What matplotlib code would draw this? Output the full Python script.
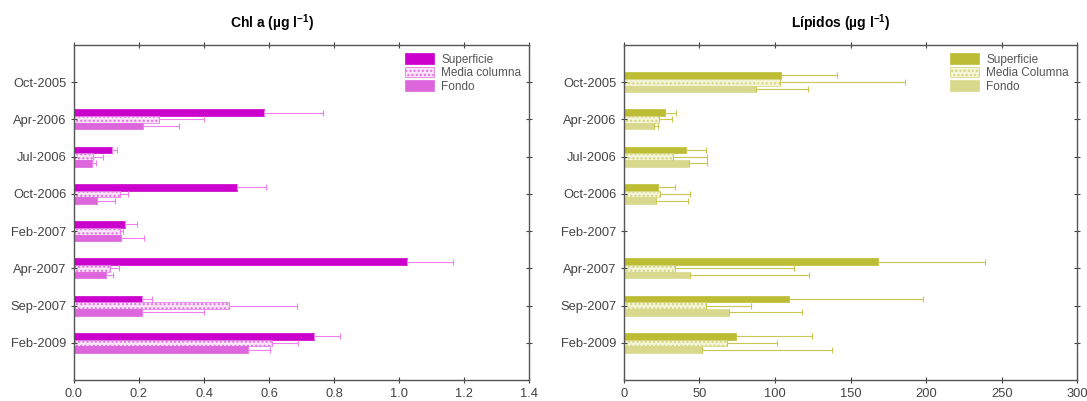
import numpy as np
import matplotlib
matplotlib.use("Agg")
import matplotlib.pyplot as plt

plt.rcParams['font.family'] = ['Liberation Sans', 'DejaVu Sans']
plt.rcParams['mathtext.default'] = 'regular'

fechas = ["Oct-2005", "Apr-2006", "Jul-2006", "Oct-2006", "Feb-2007",
          "Apr-2007", "Sep-2007", "Feb-2009"]

# Chl a (ug/l) - nan = no data
chl_sup = [np.nan, 0.585, 0.117, 0.50, 0.157, 1.025, 0.209, 0.739]
chl_sup_err = [np.nan, 0.181, 0.015, 0.09, 0.036, 0.141, 0.031, 0.079]
chl_med = [np.nan, 0.26, 0.06, 0.142, 0.142, 0.11, 0.477, 0.609]
chl_med_err = [np.nan, 0.14, 0.03, 0.024, 0.010, 0.028, 0.209, 0.080]
chl_fon = [np.nan, 0.212, 0.055, 0.071, 0.145, 0.098, 0.209, 0.535]
chl_fon_err = [np.nan, 0.111, 0.013, 0.055, 0.070, 0.022, 0.191, 0.068]

# Lipidos (ug/l)
lip_sup = [104, 27, 41, 22.7, np.nan, 168, 109, 74]
lip_sup_err = [37, 7.4, 13, 11, np.nan, 71, 89, 50.5]
lip_med = [103, 23.5, 32.4, 23.8, np.nan, 33.8, 54, 68]
lip_med_err = [83, 8.5, 22.6, 20.2, np.nan, 79, 30, 33]
lip_fon = [87.5, 20, 43, 21, np.nan, 44, 69.5, 51.7]
lip_fon_err = [34.5, 2.7, 12, 21.6, np.nan, 78.8, 48.5, 86.3]

fig = plt.figure(figsize=(10.87, 4.01), dpi=100)
ax1 = fig.add_axes([0.068, 0.052, 0.419, 0.836])
ax2 = fig.add_axes([0.574, 0.052, 0.417, 0.836])

y = np.arange(1, len(fechas) + 1)
h = 0.18


def panel(ax, sup, sup_e, med, med_e, fon, fon_e, cols, names, xmax, step, fmt, title, tx):
    c_sup, c_med_face, c_med_edge, c_fon, c_err = cols
    z = np.zeros(len(sup))
    ax.barh(y - h, sup, height=h, color=c_sup, edgecolor=c_sup, linewidth=0.5,
            label=names[0])
    ax.barh(y, med, height=h, color=c_med_face, edgecolor=c_med_edge, hatch='....',
            linewidth=0.5, label=names[1])
    ax.barh(y + h, fon, height=h, color=c_fon, edgecolor=c_fon, linewidth=0.5,
            label=names[2])
    for off, v, e in [(-h, sup, sup_e), (0, med, med_e), (h, fon, fon_e)]:
        ax.errorbar(v, y + off, xerr=[z, e], fmt='none', ecolor=c_err,
                    elinewidth=0.8, capsize=2, capthick=0.8)
    ax.set_xlim(0, xmax)
    ax.set_ylim(9, 0)
    ax.set_yticks(y)
    ax.set_yticklabels(fechas)
    ticks = np.arange(0, xmax + step / 2, step)
    ax.set_xticks(ticks)
    ax.set_xticklabels([fmt.format(t) for t in ticks])
    ax.tick_params(top=True, right=True, direction='inout', length=4, width=0.8,
                   labelsize=9.3, labelcolor='#444444', color='#444444')
    for s in ax.spines.values():
        s.set_color('#555555')
        s.set_linewidth(1)
    ax.set_title(title, fontsize=10, fontweight='bold', pad=12, x=tx)
    ax.legend(loc='upper right', frameon=False, fontsize=8.5, handlelength=2.5,
              handleheight=1.0, labelspacing=0.1, borderaxespad=0.3,
              handletextpad=0.6, labelcolor='#555555')


panel(ax1, chl_sup, chl_sup_err, chl_med, chl_med_err, chl_fon, chl_fon_err,
      ('#CC00CC', '#FBE3FB', '#E070E0', '#DD66DD', '#F080F0'),
      ["Superficie", "Media columna", "Fondo"], 1.4, 0.2, "{:.1f}",
      "Chl a (µg l$^{-1}$)", 0.435)
panel(ax2, lip_sup, lip_sup_err, lip_med, lip_med_err, lip_fon, lip_fon_err,
      ('#BDBD35', '#F4F4D8', '#D4D47A', '#D9D98E', '#C8C850'),
      ["Superficie", "Media Columna", "Fondo"], 300, 50, "{:.0f}",
      "Lípidos (µg l$^{-1}$)", 0.478)

fig.savefig("out.png", dpi=100)
